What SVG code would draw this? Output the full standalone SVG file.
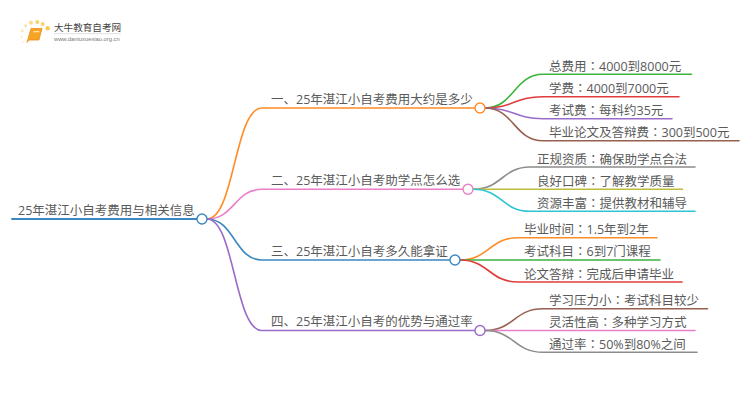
<svg xmlns="http://www.w3.org/2000/svg" width="750" height="410" viewBox="0 0 750 410">
<style>
text{font-family:"Open Sans","Noto Sans CJK SC",sans-serif;font-size:12.5px;fill:#5a5a5a}
tspan{font-family:"Noto Sans CJK TC",sans-serif}
.c{fill:none;stroke-width:1.6;stroke-linecap:round}
.n{fill:#fff;stroke-width:1.4}
</style>
<rect width="750" height="410" fill="#fff"/>
<g id="logo">
<circle cx="25.700" cy="25.700" r="1.500" fill="#fde3a0"/><circle cx="31" cy="22.700" r="2" fill="#fdd98a"/><circle cx="37.300" cy="22" r="2" fill="#fdd070"/><circle cx="42.700" cy="24" r="2" fill="#fdd070"/><circle cx="47.700" cy="28.300" r="2.200" fill="#fcc94f"/><circle cx="22.300" cy="30.700" r="1.500" fill="#fde9b8"/><circle cx="21.700" cy="36.700" r="1.300" fill="#feeecb"/><circle cx="23.300" cy="42.300" r="1" fill="#fff0d0"/>
<path d="M31 28.500H42L39 40H29L27 42.500Z" fill="#f7a326" stroke="#ee8c1c" stroke-width="0.800"/>
<rect x="33.500" y="31" width="6" height="1.300" fill="#ffe2a8"/>
<text x="54" y="31" style="font-size:9.600px;fill:#444">大牛教育自考网</text>
<rect x="54" y="33.500" width="67" height="0.600" fill="#ccc"/>
<text x="54" y="41" style="font-size:5.800px;fill:#777;font-family:'Liberation Sans',sans-serif">www.daniuxuexiao.org.cn</text>
</g>
<g id="connectors">
<path class="c" stroke="#3a87c2" style="stroke-width:2" d="M12 219H197"/>
<path class="c" stroke="#ff8c26" d="M207 219C234.500 219 234.500 108 262 108H475"/>
<path class="c" stroke="#ea7fc9" d="M207 219C234.500 219 234.500 189.300 262 189.300H463"/>
<path class="c" stroke="#3a87c2" d="M207 219C234.500 219 234.500 260 262 260H450"/>
<path class="c" stroke="#9b6bc9" d="M207 219C234.500 219 234.500 330.500 262 330.500H475"/>
<path class="c" stroke="#3cb33c" d="M485 108C514 108 514 74.300 543 74.300H691.500"/>
<path class="c" stroke="#e03c3c" d="M485 108C514 108 514 96.700 543 96.700H679"/>
<path class="c" stroke="#9b6bc9" d="M485 108C514 108 514 118.700 543 118.700H672"/>
<path class="c" stroke="#96604f" d="M485 108C514 108 514 140.700 543 140.700H739"/>
<path class="c" stroke="#8c8c8c" d="M473 189.300C502 189.300 502 167 530 167H695"/>
<path class="c" stroke="#bcbd3c" d="M473 189.300H682.500"/>
<path class="c" stroke="#2ec4d6" d="M473 189.300C502 189.300 502 211.300 530 211.300H695"/>
<path class="c" stroke="#ff8c26" d="M460 260C489 260 489 237.700 518 237.700H657"/>
<path class="c" stroke="#3cb33c" d="M460 260H660"/>
<path class="c" stroke="#e03c3c" d="M460 260C489 260 489 282 518 282H682"/>
<path class="c" stroke="#96604f" d="M485 330.500C514 330.500 514 308.700 543 308.700H707.500"/>
<path class="c" stroke="#ea7fc9" d="M485 330.500H695"/>
<path class="c" stroke="#8c8c8c" d="M485 330.500C514 330.500 514 352.300 543 352.300H697"/>
</g>
<g id="root"><text x="18" y="215">25年湛江小自考费用与相关信息</text><circle class="n" cx="202" cy="219" r="5" stroke="#3a87c2"/></g>
<g id="b1"><text x="271" y="104">一、25年湛江小自考费用大约是多少</text><circle class="n" cx="480" cy="108" r="5" stroke="#ff8c26"/></g>
<g id="b2"><text x="271" y="185">二、25年湛江小自考助学点怎么选</text><circle class="n" cx="468" cy="189.300" r="5" stroke="#ea7fc9"/></g>
<g id="b3"><text x="271" y="256">三、25年湛江小自考多久能拿证</text><circle class="n" cx="455" cy="260" r="5" stroke="#3a87c2"/></g>
<g id="b4"><text x="271" y="326">四、25年湛江小自考的优势与通过率</text><circle class="n" cx="480" cy="330.500" r="5" stroke="#9b6bc9"/></g>
<g id="n11"><text x="549" y="71">总费用<tspan>：</tspan>4000到8000元</text></g>
<g id="n12"><text x="549" y="93">学费<tspan>：</tspan>4000到7000元</text></g>
<g id="n13"><text x="549" y="115">考试费<tspan>：</tspan>每科约35元</text></g>
<g id="n14"><text x="549" y="137">毕业论文及答辩费<tspan>：</tspan>300到500元</text></g>
<g id="n21"><text x="537" y="164">正规资质<tspan>：</tspan>确保助学点合法</text></g>
<g id="n22"><text x="537" y="186">良好口碑<tspan>：</tspan>了解教学质量</text></g>
<g id="n23"><text x="537" y="208">资源丰富<tspan>：</tspan>提供教材和辅导</text></g>
<g id="n31"><text x="524" y="234">毕业时间<tspan>：</tspan>1.5年到2年</text></g>
<g id="n32"><text x="524" y="256">考试科目<tspan>：</tspan>6到7门课程</text></g>
<g id="n33"><text x="524" y="279">论文答辩<tspan>：</tspan>完成后申请毕业</text></g>
<g id="n41"><text x="549" y="305">学习压力小<tspan>：</tspan>考试科目较少</text></g>
<g id="n42"><text x="549" y="327">灵活性高<tspan>：</tspan>多种学习方式</text></g>
<g id="n43"><text x="549" y="349">通过率<tspan>：</tspan>50%到80%之间</text></g>
</svg>
